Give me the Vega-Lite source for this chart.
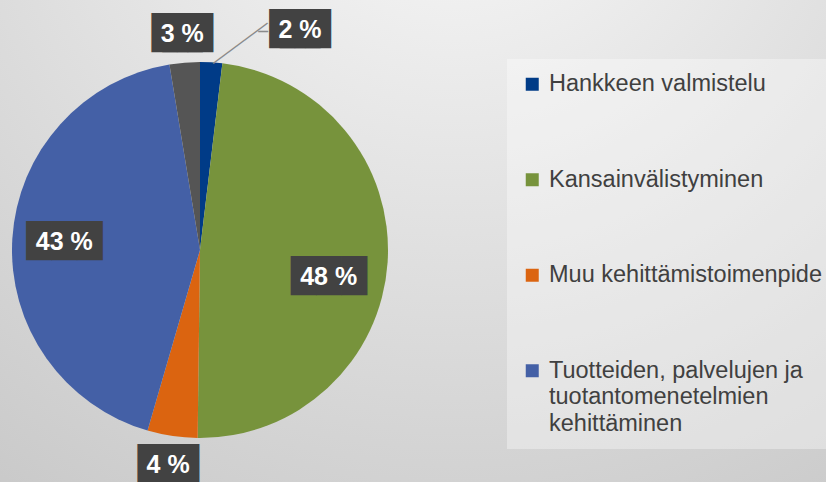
{
  "$schema": "https://vega.github.io/schema/vega-lite/v6.json",
  "width": 826,
  "height": 482,
  "autosize": "none",
  "padding": 0,
  "background": "#d8d8d8",
  "config": {"view": {"stroke": null}, "font": "Liberation Sans"},
  "data": {
    "values": [
      {"cat": "Hankkeen valmistelu", "value": 1.9},
      {"cat": "Kansainvälistyminen", "value": 48.3},
      {"cat": "Muu kehittämistoimenpide", "value": 4.3},
      {"cat": "Tuotteiden, palvelujen ja tuotantomenetelmien kehittäminen", "value": 42.9},
      {"cat": "Yhteistyö", "value": 2.6}
    ]
  },
  "transform": [{"calculate": "format(datum.value, '.0f') + ' %'", "as": "label"}],
  "layer": [
    {
      "data": {"values": [{}]},
      "mark": {
        "type": "rect",
        "fill": {
          "gradient": "radial",
          "x1": 0.55, "y1": 0, "r1": 0,
          "x2": 0.55, "y2": 0, "r2": 1,
          "stops": [
            {"offset": 0, "color": "#fafafa"},
            {"offset": 0.45, "color": "#e3e3e3"},
            {"offset": 0.75, "color": "#d4d4d4"},
            {"offset": 1, "color": "#c8c8c8"}
          ]
        }
      },
      "encoding": {}
    },
    {
      "mark": {"type": "arc", "x": 200, "y": 250, "radius": 188},
      "encoding": {
        "theta": {"field": "value", "type": "quantitative", "stack": true},
        "order": {"field": "cat", "type": "ordinal"},
        "color": {
          "field": "cat",
          "type": "nominal",
          "scale": {
            "domain": ["Hankkeen valmistelu", "Kansainvälistyminen", "Muu kehittämistoimenpide", "Tuotteiden, palvelujen ja tuotantomenetelmien kehittäminen", "Yhteistyö"],
            "range": ["#003b87", "#77933c", "#db6410", "#4460a6", "#555555"]
          },
          "legend": {
            "orient": "none",
            "legendX": 507,
            "legendY": 59,
            "title": null,
            "values": ["Hankkeen valmistelu", "Kansainvälistyminen", "Muu kehittämistoimenpide", "Tuotteiden, palvelujen ja tuotantomenetelmien kehittäminen"],
            "symbolType": "square",
            "symbolSize": 169,
            "symbolStrokeWidth": 0,
            "symbolOffset": 0,
            "labelFontSize": 23.5,
            "labelFont": "Liberation Sans",
            "labelColor": "#404040",
            "labelLimit": 400,
            "labelOffset": 5,
            "padding": 13.5,
            "rowPadding": 70.5,
            "fillColor": "rgba(255,255,255,0.35)",
            "labelExpr": "datum.label == 'Tuotteiden, palvelujen ja tuotantomenetelmien kehittäminen' ? ['\u00a0Tuotteiden, palvelujen ja', 'tuotantomenetelmien', 'kehittäminen'] : '\u00a0' + datum.label",
            "encode": {"labels": {"update": {"lineHeight": {"value": 26.5}}}}
          }
        }
      }
    },
    {
      "mark": {"type": "text", "x": 200, "y": 250, "radius": 205, "dx": 24, "dy": 15.5, "angle": -36.5, "font": "DejaVu Sans", "fontSize": 16, "fill": "#8a8a8a", "baseline": "middle", "align": "center"},
      "encoding": {
        "theta": {"field": "value", "type": "quantitative", "stack": true},
        "order": {"field": "cat", "type": "ordinal"},
        "text": {"condition": {"test": "datum.cat == 'Hankkeen valmistelu'", "value": "───────"}, "value": ""}
      }
    },
    {
      "mark": {"type": "text", "x": 200, "y": 250, "radius": 217, "dx": 50, "dy": -1, "font": "DejaVu Sans", "fontSize": 16, "fill": "#8a8a8a", "baseline": "middle", "align": "center"},
      "encoding": {
        "theta": {"field": "value", "type": "quantitative", "stack": true},
        "order": {"field": "cat", "type": "ordinal"},
        "text": {"condition": {"test": "datum.cat == 'Hankkeen valmistelu'", "value": "─"}, "value": ""}
      }
    },
    {
      "mark": {"type": "text", "x": 200, "y": 250, "radius": 136, "font": "DejaVu Sans", "fontSize": 33, "fill": "#424242", "baseline": "middle", "align": "center"},
      "encoding": {
        "theta": {"field": "value", "type": "quantitative", "stack": true},
        "order": {"field": "cat", "type": "ordinal"},
        "text": {"condition": {"test": "datum.cat == 'Tuotteiden, palvelujen ja tuotantomenetelmien kehittäminen'", "value": "███"}, "value": ""}
      }
    },
    {
      "mark": {"type": "text", "x": 200, "y": 250, "radius": 136, "fontSize": 25, "fontWeight": "bold", "fill": "white", "baseline": "middle", "align": "center"},
      "encoding": {
        "theta": {"field": "value", "type": "quantitative", "stack": true},
        "order": {"field": "cat", "type": "ordinal"},
        "text": {"condition": {"test": "datum.cat == 'Tuotteiden, palvelujen ja tuotantomenetelmien kehittäminen'", "field": "label", "type": "nominal"}, "value": ""}
      }
    },
    {
      "mark": {"type": "text", "x": 200, "y": 250, "radius": 136, "dx": -7, "dy": 18, "font": "DejaVu Sans", "fontSize": 33, "fill": "#424242", "baseline": "middle", "align": "center"},
      "encoding": {
        "theta": {"field": "value", "type": "quantitative", "stack": true},
        "order": {"field": "cat", "type": "ordinal"},
        "text": {"condition": {"test": "datum.cat == 'Kansainvälistyminen'", "value": "███"}, "value": ""}
      }
    },
    {
      "mark": {"type": "text", "x": 200, "y": 250, "radius": 136, "dx": -7, "dy": 18, "fontSize": 25, "fontWeight": "bold", "fill": "white", "baseline": "middle", "align": "center"},
      "encoding": {
        "theta": {"field": "value", "type": "quantitative", "stack": true},
        "order": {"field": "cat", "type": "ordinal"},
        "text": {"condition": {"test": "datum.cat == 'Kansainvälistyminen'", "field": "label", "type": "nominal"}, "value": ""}
      }
    },
    {
      "mark": {"type": "text", "x": 200, "y": 250, "radius": 217, "dx": -5.3, "font": "DejaVu Sans", "fontSize": 33, "fill": "#424242", "baseline": "middle", "align": "center"},
      "encoding": {
        "theta": {"field": "value", "type": "quantitative", "stack": true},
        "order": {"field": "cat", "type": "ordinal"},
        "text": {"condition": {"test": "datum.cat == 'Muu kehittämistoimenpide' || datum.cat == 'Yhteistyö'", "value": "██"}, "value": ""}
      }
    },
    {
      "mark": {"type": "text", "x": 200, "y": 250, "radius": 217, "dx": 5.3, "font": "DejaVu Sans", "fontSize": 33, "fill": "#424242", "baseline": "middle", "align": "center"},
      "encoding": {
        "theta": {"field": "value", "type": "quantitative", "stack": true},
        "order": {"field": "cat", "type": "ordinal"},
        "text": {"condition": {"test": "datum.cat == 'Muu kehittämistoimenpide' || datum.cat == 'Yhteistyö'", "value": "██"}, "value": ""}
      }
    },
    {
      "mark": {"type": "text", "x": 200, "y": 250, "radius": 217, "fontSize": 25, "fontWeight": "bold", "fill": "white", "baseline": "middle", "align": "center"},
      "encoding": {
        "theta": {"field": "value", "type": "quantitative", "stack": true},
        "order": {"field": "cat", "type": "ordinal"},
        "text": {"condition": {"test": "datum.cat == 'Muu kehittämistoimenpide' || datum.cat == 'Yhteistyö'", "field": "label", "type": "nominal"}, "value": ""}
      }
    },
    {
      "mark": {"type": "text", "x": 200, "y": 250, "radius": 217, "dx": 81.7, "dy": -3, "font": "DejaVu Sans", "fontSize": 33, "fill": "#424242", "baseline": "middle", "align": "center"},
      "encoding": {
        "theta": {"field": "value", "type": "quantitative", "stack": true},
        "order": {"field": "cat", "type": "ordinal"},
        "text": {"condition": {"test": "datum.cat == 'Hankkeen valmistelu'", "value": "██"}, "value": ""}
      }
    },
    {
      "mark": {"type": "text", "x": 200, "y": 250, "radius": 217, "dx": 92.3, "dy": -3, "font": "DejaVu Sans", "fontSize": 33, "fill": "#424242", "baseline": "middle", "align": "center"},
      "encoding": {
        "theta": {"field": "value", "type": "quantitative", "stack": true},
        "order": {"field": "cat", "type": "ordinal"},
        "text": {"condition": {"test": "datum.cat == 'Hankkeen valmistelu'", "value": "██"}, "value": ""}
      }
    },
    {
      "mark": {"type": "text", "x": 200, "y": 250, "radius": 217, "dx": 87, "dy": -3, "fontSize": 25, "fontWeight": "bold", "fill": "white", "baseline": "middle", "align": "center"},
      "encoding": {
        "theta": {"field": "value", "type": "quantitative", "stack": true},
        "order": {"field": "cat", "type": "ordinal"},
        "text": {"condition": {"test": "datum.cat == 'Hankkeen valmistelu'", "field": "label", "type": "nominal"}, "value": ""}
      }
    }
  ]
}
